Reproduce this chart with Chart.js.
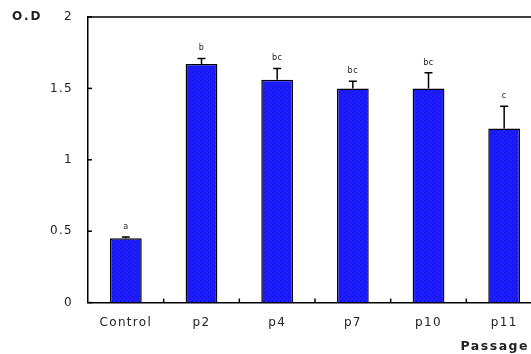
<!DOCTYPE html>
<html>
<head>
<meta charset="utf-8">
<script src="https://cdn.jsdelivr.net/npm/chart.js@4/dist/chart.umd.min.js"></script>
<style>
  html, body { margin: 0; padding: 0; background: #fff; overflow: hidden; }
  #wrap { width: 560px; height: 354px; }
</style>
</head>
<body>
<div id="wrap"><canvas id="odChart" width="560" height="354"></canvas></div>
<script>
// Chart data
const categories = ["Control", "p2", "p4", "p7", "p10", "p11"];
const odValues = [0.45, 1.67, 1.56, 1.50, 1.50, 1.22];
const sdValues = [0.01, 0.04, 0.08, 0.05, 0.11, 0.155];
const letters = ["a", "b", "bc", "bc", "bc", "c"];
const yTicks = [0, 0.5, 1, 1.5, 2];

const FONT = "'DejaVu Sans', Arial, sans-serif";

// Dotted blue fill, like the original bars
function makePattern() {
  const p = document.createElement("canvas");
  p.width = 4;
  p.height = 4;
  const c = p.getContext("2d");
  c.fillStyle = "#1c1cff";
  c.fillRect(0, 0, 4, 4);
  c.fillStyle = "#1010d8";
  c.fillRect(0, 0, 1, 1);
  c.fillRect(2, 2, 1, 1);
  return c.createPattern(p, "repeat");
}

// the original text is drawn wide, so space the letters out a bit
const spacing = {
  id: "spacing",
  beforeDraw(chart) { chart.ctx.letterSpacing = "1.3px"; }
};

// Error bars, letters, inward ticks, frame and axis captions
const extras = {
  id: "extras",
  afterDatasetsDraw(chart) {
    const ctx = chart.ctx;
    const x = chart.scales.x;
    const y = chart.scales.y;
    const area = chart.chartArea;
    ctx.save();
    ctx.strokeStyle = "#000";
    ctx.lineWidth = 1.5;
    // top frame line
    ctx.beginPath();
    ctx.moveTo(area.left, area.top);
    ctx.lineTo(area.right, area.top);
    ctx.stroke();
    // y ticks pointing inward
    yTicks.forEach(v => {
      const py = y.getPixelForValue(v);
      ctx.beginPath();
      ctx.moveTo(area.left, py);
      ctx.lineTo(area.left + 4, py);
      ctx.stroke();
    });
    // x ticks between categories, pointing up
    for (let i = 1; i < categories.length; i++) {
      const px = (x.getPixelForValue(i - 1) + x.getPixelForValue(i)) / 2;
      ctx.beginPath();
      ctx.moveTo(px, area.bottom);
      ctx.lineTo(px, area.bottom - 4);
      ctx.stroke();
    }
    // error bars + letters
    odValues.forEach((v, i) => {
      const px = x.getPixelForValue(i);
      const top = y.getPixelForValue(v + sdValues[i]);
      const base = y.getPixelForValue(v);
      ctx.lineWidth = 1.5;
      ctx.beginPath();
      ctx.moveTo(px, base);
      ctx.lineTo(px, top);
      ctx.moveTo(px - 4, top);
      ctx.lineTo(px + 4, top);
      ctx.stroke();
      ctx.fillStyle = "#222";
      ctx.font = "8px " + FONT;
      ctx.letterSpacing = "0.5px";
      ctx.textAlign = "center";
      ctx.textBaseline = "alphabetic";
      ctx.fillText(letters[i], px, top - 8);
    });
    // captions
    ctx.fillStyle = "#222";
    ctx.font = "bold 12px " + FONT;
    ctx.letterSpacing = "2px";
    ctx.textAlign = "left";
    ctx.textBaseline = "middle";
    ctx.fillText("O.D", 12, 17);
    ctx.font = "bold 12.5px " + FONT;
    ctx.letterSpacing = "1.5px";
    ctx.textAlign = "right";
    ctx.textBaseline = "alphabetic";
    ctx.fillText("Passage", 529, 350);
    ctx.restore();
  }
};

new Chart(document.getElementById("odChart"), {
  type: "bar",
  data: {
    labels: categories,
    datasets: [{
      data: odValues,
      backgroundColor: makePattern(),
      borderColor: "#000",
      borderWidth: 1.5,
      borderSkipped: "bottom",
      barPercentage: 0.42,
      categoryPercentage: 1
    }]
  },
  options: {
    responsive: false,
    animation: false,
    layout: { padding: { top: 17, right: 18, bottom: 11, left: 0 } },
    plugins: { legend: { display: false }, tooltip: { enabled: false } },
    scales: {
      y: {
        min: 0,
        max: 2,
        afterFit(scale) {
          scale.width = 88;
          scale.paddingTop = 0;
          scale.paddingBottom = 0;
        },
        afterBuildTicks(scale) { scale.ticks = yTicks.map(v => ({ value: v })); },
        grid: { display: false, drawTicks: false },
        border: { display: true, color: "#000", width: 1.5 },
        ticks: {
          padding: 15,
          color: "#222",
          font: { family: FONT, size: 12 },
          callback: v => String(v)
        }
      },
      x: {
        grid: { display: false, drawTicks: false },
        border: { display: true, color: "#000", width: 1.5 },
        ticks: {
          padding: 13,
          color: "#222",
          font: { family: FONT, size: 12 }
        }
      }
    }
  },
  plugins: [spacing, extras]
});
</script>
</body>
</html>
